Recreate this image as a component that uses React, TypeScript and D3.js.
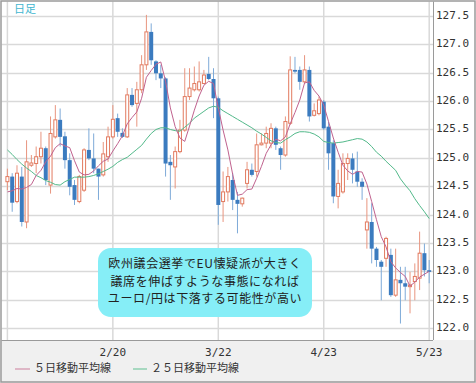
import React from 'react';
import * as d3 from 'd3';

const opens = [124.58,124.67,124.23,124.67,123.87,124.87,124.90,125.02,125.17,124.52,125.37,125.67,125.38,124.96,124.52,124.23,124.43,125.14,124.99,124.81,124.70,125.02,125.37,125.70,125.44,125.37,126.11,125.96,126.20,126.64,127.22,126.70,126.49,126.40,124.93,124.84,125.11,125.49,126.08,126.20,126.20,126.31,126.48,126.39,126.05,124.23,124.40,124.61,124.26,124.19,124.55,124.79,124.76,125.23,125.26,125.26,125.52,125.17,125.05,125.61,126.55,126.55,126.34,126.55,125.75,125.78,125.99,125.55,125.26,124.32,124.40,124.90,124.99,124.76,124.58,123.73,123.87,123.40,123.17,123.23,123.29,122.58,122.85,122.79,122.73,122.82,122.88,123.32,123.02];
const highs = [124.81,124.73,124.87,124.84,125.31,125.05,125.20,125.46,125.20,125.73,125.93,125.87,125.46,125.08,124.61,124.70,125.17,125.52,125.43,124.81,125.28,125.55,125.93,125.78,125.52,126.23,126.23,126.34,126.81,127.52,127.37,126.72,126.64,126.42,125.05,125.20,125.67,126.58,126.58,126.61,126.70,126.55,126.78,126.58,126.08,124.76,124.84,124.73,124.40,124.30,124.93,124.90,125.43,125.43,125.55,125.61,125.55,125.20,125.73,126.79,126.78,126.61,126.81,126.61,125.96,126.08,126.02,125.64,125.31,124.79,125.08,125.08,125.08,125.11,124.64,124.29,124.20,123.43,123.20,123.61,123.40,123.40,123.08,123.08,122.99,123.14,123.70,123.49,123.20];
const lows = [124.43,124.05,124.20,123.79,123.76,124.84,124.73,124.90,124.52,124.37,125.34,125.20,124.81,124.34,124.17,124.20,124.40,124.96,124.73,124.26,124.67,124.93,125.34,125.37,125.35,125.35,125.90,125.55,126.14,126.55,126.64,126.37,126.23,124.67,124.26,124.46,125.08,125.46,126.02,126.17,126.17,126.30,126.37,125.70,123.82,123.87,124.23,124.08,123.67,124.14,124.46,124.67,124.67,125.22,125.17,125.17,125.14,124.79,125.02,125.58,126.49,126.20,126.31,125.64,125.73,125.75,125.49,124.79,124.20,124.11,124.37,124.61,124.55,124.49,124.26,123.40,123.14,123.08,122.49,123.08,122.55,122.55,122.08,122.49,122.26,122.49,122.67,122.91,122.79];
const closes = [124.67,124.21,124.73,123.87,124.93,124.91,125.02,125.17,124.61,125.43,125.67,125.37,124.96,124.49,124.26,124.67,125.14,124.99,124.81,124.67,125.07,125.37,125.68,125.46,125.37,126.11,125.93,126.20,126.64,127.22,126.72,126.49,126.40,124.90,124.87,125.11,125.49,126.08,126.23,126.31,126.34,126.46,126.39,126.05,124.17,124.40,124.67,124.26,124.19,124.29,124.79,124.70,125.23,125.26,125.43,125.52,125.23,125.05,125.64,126.55,126.52,126.34,126.55,125.73,125.83,126.02,125.52,125.08,124.32,124.55,124.90,124.99,124.79,124.58,124.49,123.87,123.40,123.20,123.08,123.58,122.58,122.85,122.79,122.73,122.76,122.91,123.32,123.02,122.99];
const ma5 = [124.40,124.42,124.46,124.45,124.48,124.53,124.69,124.78,124.93,125.03,125.18,125.25,125.21,125.18,124.95,124.75,124.70,124.71,124.77,124.86,124.94,124.98,125.12,125.25,125.39,125.60,125.71,125.81,126.05,126.42,126.54,126.65,126.69,126.35,125.88,125.55,125.35,125.29,125.56,125.84,126.09,126.28,126.35,126.31,125.88,125.49,125.14,124.71,124.34,124.36,124.44,124.45,124.64,124.85,125.08,125.23,125.33,125.30,125.37,125.60,125.80,126.02,126.32,126.34,126.19,126.09,125.93,125.64,125.35,125.10,124.87,124.77,124.71,124.76,124.75,124.54,124.23,123.91,123.61,123.43,123.17,123.06,122.98,122.91,122.74,122.81,122.90,122.95,123.00];
const ma25 = [125.14,125.06,124.97,124.89,124.82,124.76,124.69,124.65,124.60,124.57,124.53,124.52,124.58,124.62,124.66,124.66,124.66,124.67,124.69,124.72,124.76,124.80,124.85,124.92,124.97,125.01,125.08,125.15,125.22,125.33,125.43,125.50,125.53,125.53,125.50,125.48,125.47,125.54,125.61,125.70,125.76,125.82,125.88,125.91,125.89,125.83,125.78,125.73,125.68,125.63,125.58,125.53,125.47,125.42,125.36,125.30,125.27,125.26,125.32,125.37,125.43,125.46,125.46,125.45,125.42,125.37,125.29,125.27,125.26,125.27,125.28,125.30,125.32,125.34,125.33,125.28,125.20,125.10,125.03,124.94,124.86,124.78,124.63,124.52,124.42,124.28,124.16,124.05,123.93];

const dateTickIdx = [0, 22, 44, 66, 88];
const dateTickLabels = ['', '2/20', '3/22', '4/23', '5/23'];
const priceTicks = [122.0, 122.5, 123.0, 123.5, 124.0, 124.5, 125.0, 125.5, 126.0, 126.5, 127.0, 127.5];
const noteLines = ['欧州議会選挙でEU懐疑派が大きく', '議席を伸ばすような事態になれば', 'ユーロ/円は下落する可能性が高い'];
const legendLabels = ['５日移動平均線', '２５日移動平均線'];

const W = 476, H = 383;
const PL = 1.5, PT = 1.5, PR = 433, PB = 340;
const UP = '#e27a5f', UPW = '#e8957f', DN = '#3b7bbf', DNW = '#7eaad8';
const C5 = '#c0628e', C25 = '#52b98a';

export default function App() {
  const x = d3.scaleLinear().domain([0, closes.length - 1]).range([7.4, 429.2]);
  const y = d3.scaleLinear().domain([121.79, 127.747]).range([PB, 2]);
  const line5 = d3.line<number>().x((_, i) => x(i)).y(d => y(d));
  const mono = '"DejaVu Sans Mono", monospace';
  const jp = '"Noto Sans CJK JP", sans-serif';
  return (
    <svg width={W} height={H} style={{ position: 'absolute', left: 0, top: 0 }}>
      <rect x={0} y={0} width={W} height={H} fill="#fff" />
      <rect x={0} y={PB} width={W} height={H - PB} fill="#f0f0f0" />
      <defs>
        <clipPath id="plot"><rect x={PL} y={PT} width={PR - PL} height={PB - PT} /></clipPath>
      </defs>
      <g>
        {priceTicks.map(p => (
          <line key={p} x1={PL} x2={PR} y1={Math.round(y(p)) + 0.5} y2={Math.round(y(p)) + 0.5} stroke="#d9d9d9" strokeWidth={1.5} />
        ))}
        {dateTickIdx.map(i => (
          <line key={i} x1={x(i)} x2={x(i)} y1={PT} y2={PB} stroke="#d9d9d9" strokeWidth={1.5} />
        ))}
      </g>
      <g clipPath="url(#plot)">
        {closes.map((c, i) => {
          const o = opens[i];
          const up = c >= o;
          const cx = x(i);
          const top = y(Math.max(o, c));
          const bot = y(Math.min(o, c));
          return (
            <g key={i}>
              <line x1={cx} x2={cx} y1={y(highs[i])} y2={y(lows[i])} stroke={up ? UPW : DNW} strokeWidth={1} />
              {up ? (
                <rect x={cx - 1.5} y={top} width={3} height={Math.max(1, bot - top)} fill="#fff" stroke={UP} strokeWidth={1} />
              ) : (
                <rect x={cx - 2} y={top} width={4} height={Math.max(1.5, bot - top)} fill={DN} />
              )}
            </g>
          );
        })}
        <path d={line5(ma25) || ''} fill="none" stroke={C25} strokeWidth={1} />
        <path d={line5(ma5) || ''} fill="none" stroke={C5} strokeWidth={1} />
      </g>
      <text x={14} y={10} fill="#3fb6d0" fontFamily={jp} fontSize={11} dominantBaseline="middle">日足</text>
      <rect x={98} y={248} width={214} height={69} rx={13} ry={13} fill="#86eef7" />
      {noteLines.map((t, k) => (
        <text key={k} x={205} y={265 + k * 17.5} textAnchor="middle" dominantBaseline="middle" fontFamily={jp} fontSize={12} letterSpacing={0.6} fill="#222">{t}</text>
      ))}
      <line x1={PR + 0.5} x2={PR + 0.5} y1={PT} y2={PB} stroke="#9a9a9a" strokeWidth={1} />
      <line x1={PL} x2={PR} y1={PB + 0.5} y2={PB + 0.5} stroke="#9a9a9a" strokeWidth={1} />
      {priceTicks.map(p => (
        <text key={p} x={436} y={y(p)} dominantBaseline="middle" fontFamily={mono} fontSize={11} fill="#333">{p.toFixed(1)}</text>
      ))}
      {dateTickIdx.map((i, k) => dateTickLabels[k] ? (
        <text key={i} x={x(i)} y={353} textAnchor="middle" dominantBaseline="middle" fontFamily={mono} fontSize={11} fill="#333">{dateTickLabels[k]}</text>
      ) : null)}
      <line x1={15} x2={30} y1={369} y2={369} stroke="#d9a5b8" strokeWidth={1.5} />
      <text x={34} y={369} dominantBaseline="middle" fontFamily={jp} fontSize={11} fill="#333">{legendLabels[0]}</text>
      <line x1={133} x2={147} y1={369} y2={369} stroke="#8fd0b0" strokeWidth={1.5} />
      <text x={151} y={369} dominantBaseline="middle" fontFamily={jp} fontSize={11} fill="#333">{legendLabels[1]}</text>
      <rect x={1} y={1} width={W - 2} height={H - 2} fill="none" stroke="#9a9a9a" strokeWidth={1.5} />
    </svg>
  );
}
